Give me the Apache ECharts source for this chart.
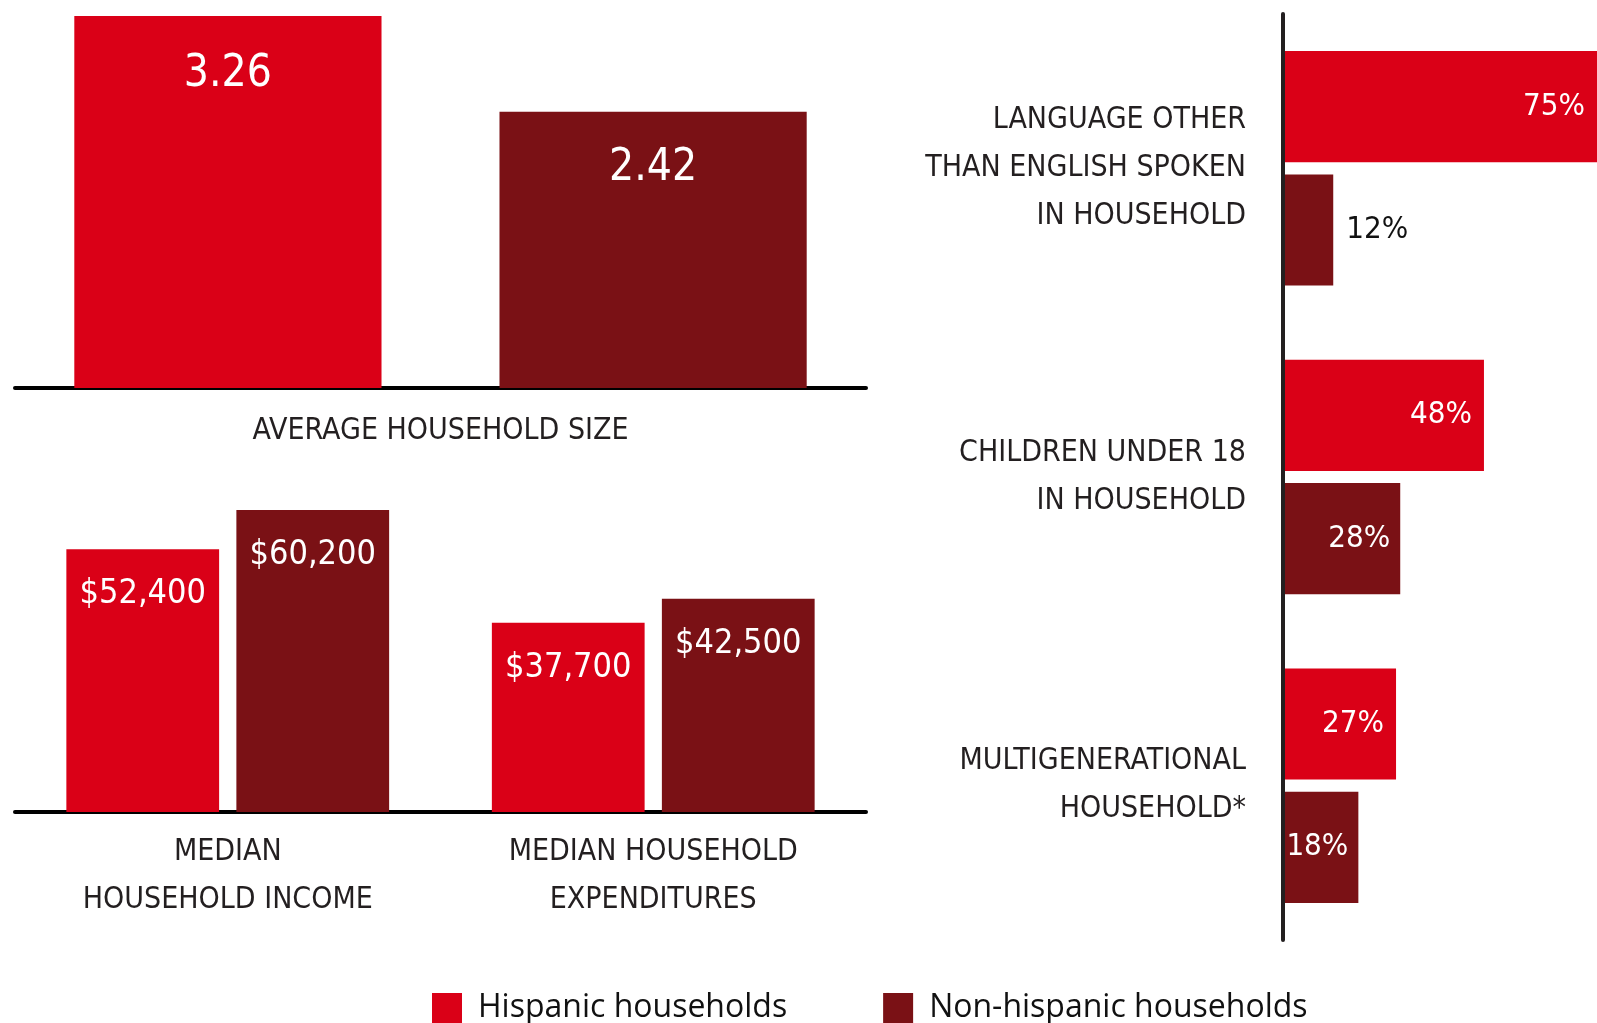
<!DOCTYPE html>
<html>
<head>
<meta charset="utf-8">
<script src="https://cdn.jsdelivr.net/npm/echarts@6/dist/echarts.min.js"></script>
<style>
html,body{margin:0;padding:0;background:#fff;}
#chart{width:1597px;height:1023px;}
</style>
</head>
<body>
<div id="chart"></div>
<script>
// ---- data ----
const seriesNames = ['Hispanic households', 'Non-hispanic households'];
const sizeCategories = ['AVERAGE HOUSEHOLD SIZE'];
const sizeHispanic = [3.26];
const sizeNonHispanic = [2.42];
const moneyCategories = ['MEDIAN\nHOUSEHOLD INCOME', 'MEDIAN HOUSEHOLD\nEXPENDITURES'];
const moneyHispanic = [52400, 37700];
const moneyNonHispanic = [60200, 42500];
const traitCategories = ['LANGUAGE OTHER\nTHAN ENGLISH SPOKEN\nIN HOUSEHOLD', 'CHILDREN UNDER 18\nIN HOUSEHOLD', 'MULTIGENERATIONAL\nHOUSEHOLD*'];
const traitHispanic = [75, 48, 27];
const traitNonHispanic = [12, 28, 18];

// ---- style ----
const RED = '#DA0017';
const DARK = '#7A1115';
const INK = '#231F20';
const NARROW = '"Liberation Sans Narrow", "Arial Narrow", "DejaVu Sans Condensed", sans-serif';

const chart = echarts.init(document.getElementById('chart'));

const money = v => '$' + v.toLocaleString('en-US');
const pct = v => v + '%';

function traitData(arr) {
  return arr.map(v => v < 15
    ? { value: v, label: { position: 'right', distance: 13, color: '#111' } }
    : { value: v });
}

const catAxisLeft = (gridIndex, data, margin) => ({
  type: 'category', gridIndex, data,
  axisLine: { lineStyle: { color: '#000', width: 4 } },
  axisTick: { show: false },
  axisLabel: { margin, fontSize: 30, lineHeight: 48, color: INK, fontFamily: NARROW, interval: 0 }
});

const option = {
  animation: false,
  backgroundColor: '#fff',
  textStyle: { fontFamily: NARROW },
  legend: {
    data: seriesNames,
    left: 432, top: 992,
    itemWidth: 30, itemHeight: 30, itemGap: 96,
    icon: 'rect',
    padding: 0,
    textStyle: { fontFamily: '"Open Sans", sans-serif', fontSize: 32, color: '#111', padding: [0, 0, 0, 11] }
  },
  grid: [
    { left: 15, right: 731, top: 16, bottom: 635 },
    { left: 15, right: 731, top: 510, bottom: 211 },
    { left: 1283, right: 0, top: 14, bottom: 83 }
  ],
  xAxis: [
    catAxisLeft(0, sizeCategories, 19),
    catAxisLeft(1, moneyCategories, 16),
    { type: 'value', gridIndex: 2, min: 0, max: 75, show: false }
  ],
  yAxis: [
    { type: 'value', gridIndex: 0, min: 0, max: 'dataMax', show: false },
    { type: 'value', gridIndex: 1, min: 0, max: 'dataMax', show: false },
    {
      type: 'category', gridIndex: 2, data: traitCategories, inverse: true, z: 5,
      axisLine: { lineStyle: { color: INK, width: 4 } },
      axisTick: { show: false },
      axisLabel: { margin: 37, fontSize: 30, lineHeight: 48, color: INK, fontFamily: NARROW, align: 'right', padding: [6, 0, 0, 0] }
    }
  ],
  series: [
    {
      name: seriesNames[0], type: 'bar', xAxisIndex: 0, yAxisIndex: 0, data: sizeHispanic,
      itemStyle: { color: RED }, barWidth: '36.1%', barGap: '38.4%',
      label: { show: true, position: 'insideTop', distance: 37, color: '#fff', fontSize: 44, fontFamily: NARROW }
    },
    {
      name: seriesNames[1], type: 'bar', xAxisIndex: 0, yAxisIndex: 0, data: sizeNonHispanic,
      itemStyle: { color: DARK }, barWidth: '36.1%', barGap: '38.4%',
      label: { show: true, position: 'insideTop', distance: 35, color: '#fff', fontSize: 44, fontFamily: NARROW }
    },
    {
      name: seriesNames[0], type: 'bar', xAxisIndex: 1, yAxisIndex: 1, data: moneyHispanic,
      itemStyle: { color: RED }, barWidth: '35.9%', barGap: '11.3%',
      label: { show: true, position: 'insideTop', distance: 28, color: '#fff', fontSize: 34, fontFamily: NARROW, formatter: p => money(p.value) }
    },
    {
      name: seriesNames[1], type: 'bar', xAxisIndex: 1, yAxisIndex: 1, data: moneyNonHispanic,
      itemStyle: { color: DARK }, barWidth: '35.9%', barGap: '11.3%',
      label: { show: true, position: 'insideTop', distance: 28, color: '#fff', fontSize: 34, fontFamily: NARROW, formatter: p => money(p.value) }
    },
    {
      name: seriesNames[0], type: 'bar', xAxisIndex: 2, yAxisIndex: 2, data: traitData(traitHispanic),
      itemStyle: { color: RED }, barWidth: '36%', barGap: '11%',
      label: { show: true, position: 'insideRight', distance: 12, color: '#fff', fontSize: 31, fontFamily: NARROW, formatter: p => pct(p.value) }
    },
    {
      name: seriesNames[1], type: 'bar', xAxisIndex: 2, yAxisIndex: 2, data: traitData(traitNonHispanic),
      itemStyle: { color: DARK }, barWidth: '36%', barGap: '11%',
      label: { show: true, position: 'insideRight', distance: 10, color: '#fff', fontSize: 31, fontFamily: NARROW, formatter: p => pct(p.value) }
    }
  ]
};
chart.setOption(option);
</script>
</body>
</html>
